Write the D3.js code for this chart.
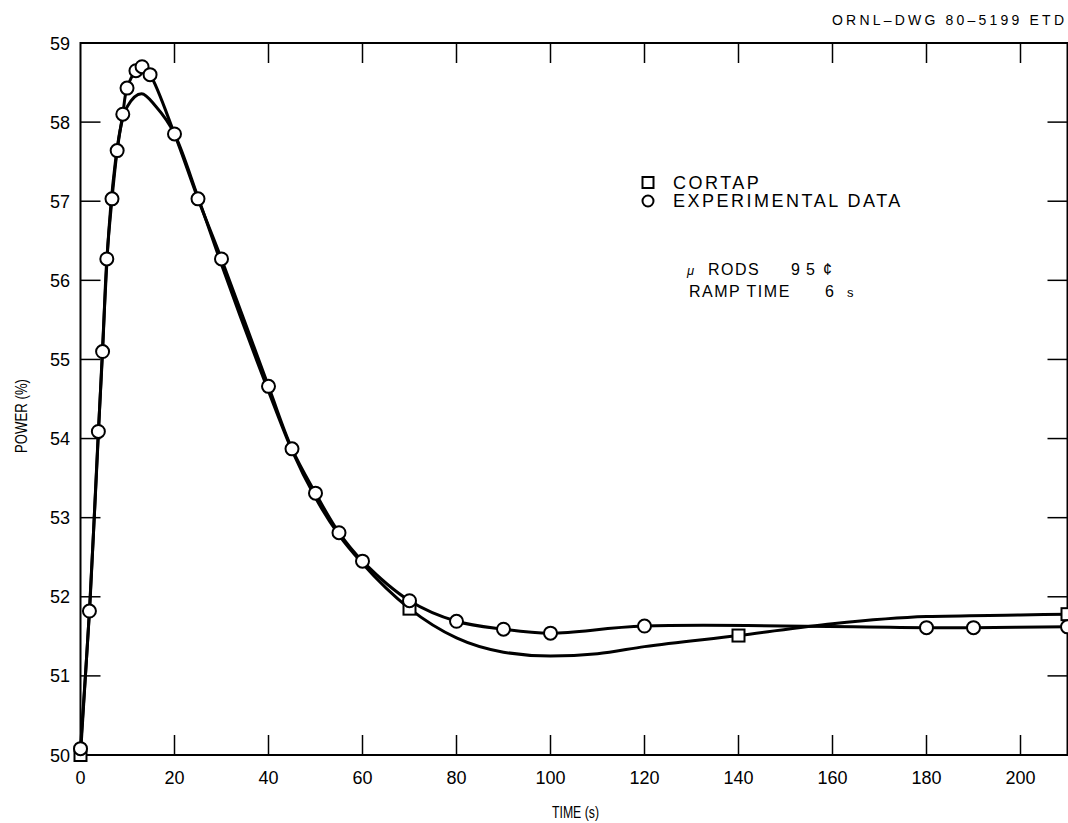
<!DOCTYPE html>
<html>
<head>
<meta charset="utf-8">
<script src="https://cdn.jsdelivr.net/npm/d3@7"></script>
<style>
  body { margin: 0; background: #fff; }
  text { font-family: "Liberation Sans", Arial, sans-serif; fill: #000; }
</style>
</head>
<body>
<div class="chart"></div>
<script>
  // experimental data (circles)
  var expTime  = [0, 1.9, 3.8, 4.7, 5.6, 6.7, 7.8, 9.0, 9.9, 11.8, 13.1, 14.8, 20, 25, 30, 40, 45, 50, 55, 60, 70, 80, 90, 100, 120, 180, 190, 210];
  var expPower = [50.08, 51.82, 54.09, 55.10, 56.27, 57.03, 57.64, 58.10, 58.43, 58.65, 58.70, 58.60, 57.85, 57.03, 56.27, 54.66, 53.87, 53.31, 52.81, 52.45, 51.95, 51.69, 51.59, 51.54, 51.63, 51.61, 51.61, 51.62];

  // CORTAP calculated curve
  var corTime  = [0, 2, 4, 6, 8, 10, 13, 16, 20, 25, 30, 40, 45, 50, 55, 60, 70, 80, 90, 100, 110, 120, 140, 160, 180, 200, 210];
  var corPower = [50.0, 51.9, 54.3, 56.6, 57.75, 58.2, 58.36, 58.2, 57.85, 57.05, 56.2, 54.6, 53.85, 53.25, 52.78, 52.42, 51.85, 51.48, 51.3, 51.25, 51.28, 51.37, 51.51, 51.66, 51.75, 51.77, 51.78];

  // CORTAP square markers
  var sqTime  = [0, 70, 140, 210];
  var sqPower = [50.0, 51.85, 51.51, 51.78];

  var xTicks = [0, 20, 40, 60, 80, 100, 120, 140, 160, 180, 200];
  var yTicks = [50, 51, 52, 53, 54, 55, 56, 57, 58, 59];

  var W = 1068, H = 823;
  var margin = { top: 43, right: 1067.5, bottom: 755, left: 80.5 };

  var x = d3.scaleLinear().domain([0, 210]).range([margin.left, margin.right]);
  var y = d3.scaleLinear().domain([50, 59]).range([margin.bottom, margin.top]);

  var svg = d3.select(".chart").append("svg")
    .attr("width", W)
    .attr("height", H);

  // frame
  svg.append("rect")
    .attr("x", x(0)).attr("y", y(59))
    .attr("width", x(210) - x(0)).attr("height", y(50) - y(59))
    .attr("fill", "none").attr("stroke", "#000").attr("stroke-width", 2);

  // inner ticks on all four sides
  var tl = 20;
  var xIn = xTicks.filter(function(d) { return d > 0; });
  var yIn = yTicks.filter(function(d) { return d > 50 && d < 59; });
  svg.append("g").selectAll("line").data(xIn)
    .enter().append("line")
    .attr("x1", function(d) { return x(d); }).attr("x2", function(d) { return x(d); })
    .attr("y1", margin.bottom).attr("y2", margin.bottom - tl)
    .attr("stroke", "#000").attr("stroke-width", 1.5);
  svg.append("g").selectAll("line").data(xIn)
    .enter().append("line")
    .attr("x1", function(d) { return x(d); }).attr("x2", function(d) { return x(d); })
    .attr("y1", margin.top).attr("y2", margin.top + tl)
    .attr("stroke", "#000").attr("stroke-width", 1.5);
  svg.append("g").selectAll("line").data(yIn)
    .enter().append("line")
    .attr("x1", margin.left).attr("x2", margin.left + tl)
    .attr("y1", function(d) { return y(d); }).attr("y2", function(d) { return y(d); })
    .attr("stroke", "#000").attr("stroke-width", 1.5);
  svg.append("g").selectAll("line").data(yIn)
    .enter().append("line")
    .attr("x1", margin.right).attr("x2", margin.right - tl)
    .attr("y1", function(d) { return y(d); }).attr("y2", function(d) { return y(d); })
    .attr("stroke", "#000").attr("stroke-width", 1.5);

  // tick labels
  svg.append("g").selectAll("text").data(xTicks)
    .enter().append("text")
    .attr("x", function(d) { return x(d); })
    .attr("y", 784)
    .attr("text-anchor", "middle")
    .style("font-size", "18px")
    .text(function(d) { return d; });
  svg.append("g").selectAll("text").data(yTicks)
    .enter().append("text")
    .attr("x", 70)
    .attr("y", function(d) { return y(d) + 6.5; })
    .attr("text-anchor", "end")
    .style("font-size", "18px")
    .text(function(d) { return d; });

  // axis titles
  svg.append("text")
    .attr("x", 552).attr("y", 818)
    .attr("textLength", 47).attr("lengthAdjust", "spacingAndGlyphs")
    .style("font-size", "17px")
    .text("TIME (s)");
  svg.append("text")
    .attr("transform", "translate(27,453) rotate(-90)")
    .attr("textLength", 74).attr("lengthAdjust", "spacingAndGlyphs")
    .style("font-size", "17px")
    .text("POWER (%)");

  svg.append("text")
    .attr("x", 832).attr("y", 25)
    .attr("textLength", 232)
    .style("font-size", "14px")
    .text("ORNL\u2013DWG 80\u20135199  ETD");

  // curves
  var corLine = d3.line()
    .x(function(d) { return x(d[0]); })
    .y(function(d) { return y(d[1]); })
    .curve(d3.curveMonotoneX);
  var expLine = d3.line()
    .x(function(d) { return x(d[0]); })
    .y(function(d) { return y(d[1]); })
    .curve(d3.curveCatmullRom.alpha(0.5));

  svg.append("path")
    .datum(corTime.map(function(t, i) { return [t, corPower[i]]; }))
    .attr("d", corLine)
    .attr("fill", "none").attr("stroke", "#000").attr("stroke-width", 3);
  svg.append("path")
    .datum(expTime.map(function(t, i) { return [t, expPower[i]]; }))
    .attr("d", expLine)
    .attr("fill", "none").attr("stroke", "#000").attr("stroke-width", 3);

  // markers
  svg.append("g").selectAll("rect").data(sqTime.map(function(t, i) { return [t, sqPower[i]]; }))
    .enter().append("rect")
    .attr("x", function(d) { return x(d[0]) - 6; })
    .attr("y", function(d) { return y(d[1]) - 6; })
    .attr("width", 12).attr("height", 12)
    .attr("fill", "#fff").attr("stroke", "#000").attr("stroke-width", 2);
  svg.append("g").selectAll("circle").data(expTime.map(function(t, i) { return [t, expPower[i]]; }))
    .enter().append("circle")
    .attr("cx", function(d) { return x(d[0]); })
    .attr("cy", function(d) { return y(d[1]); })
    .attr("r", 6.5)
    .attr("fill", "#fff").attr("stroke", "#000").attr("stroke-width", 2);

  // legend
  svg.append("rect")
    .attr("x", 642.5).attr("y", 177).attr("width", 11).attr("height", 11)
    .attr("fill", "#fff").attr("stroke", "#000").attr("stroke-width", 2);
  svg.append("text")
    .attr("x", 673).attr("y", 189)
    .style("font-size", "18px").style("letter-spacing", "2.5px")
    .text("CORTAP");
  svg.append("circle")
    .attr("cx", 648).attr("cy", 201).attr("r", 5.5)
    .attr("fill", "#fff").attr("stroke", "#000").attr("stroke-width", 2);
  svg.append("text")
    .attr("x", 673).attr("y", 207)
    .style("font-size", "18px").style("letter-spacing", "2.5px")
    .text("EXPERIMENTAL DATA");

  var note1 = svg.append("text")
    .attr("x", 687).attr("y", 275)
    .style("font-size", "16px").style("letter-spacing", "1.5px");
  note1.append("tspan").style("font-style", "italic").style("font-size", "13px").text("\u03bc");
  note1.append("tspan").attr("x", 708).text("RODS");
  note1.append("tspan").attr("x", 791).text("9");
  note1.append("tspan").attr("x", 806).text("5");
  note1.append("tspan").attr("x", 823).text("\u00a2");
  var note2 = svg.append("text")
    .attr("x", 689).attr("y", 297)
    .style("font-size", "16px").style("letter-spacing", "1.5px");
  note2.append("tspan").text("RAMP TIME");
  note2.append("tspan").attr("x", 825).text("6");
  note2.append("tspan").attr("x", 847).style("font-size", "13px").text("s");
</script>
</body>
</html>
